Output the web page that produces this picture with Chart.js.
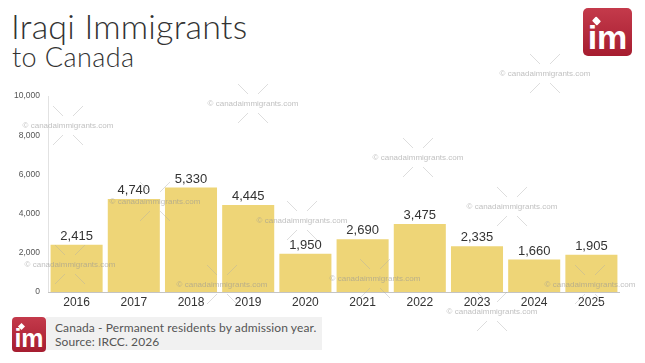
<!DOCTYPE html>
<html lang="en">
<head>
  <meta charset="utf-8">
  <title>Iraqi Immigrants to Canada</title>
  <style type="text/css">
    body { margin: 0; background: #fff; width: 645px; height: 363px; overflow: hidden; position: relative; }
    #wrap { position: absolute; left: 0; top: 0; width: 645px; height: 363px; }
    .title { position: absolute; left: 11px; top: 9px; font-family: Lato, sans-serif; font-weight: 300; font-size: 34px; color: #333; line-height: 1; letter-spacing: 0.2px; }
    .sub { position: absolute; left: 12px; top: 43px; font-family: Lato, sans-serif; font-weight: 300; font-size: 27px; color: #333; line-height: 1; letter-spacing: 0.4px; }
    .logo { position: absolute; background: linear-gradient(#c43a4b, #a61d30); border-radius: 5px; color: #fff; font-family: "Liberation Sans", Arial, sans-serif; font-weight: bold; text-align: center; }
    .logo .leaf { position: absolute; background: #fff; }
    .foot { position: absolute; left: 46px; top: 317px; width: 276px; height: 33px; background: #f1f1f1; }
    .foot p { margin: 0; position: absolute; left: 9px; font-family: Lato, sans-serif; font-size: 12px; color: #555; letter-spacing: 0.1px; }
  </style>
</head>
<body>
  <div class="title">Iraqi Immigrants</div>
  <div class="sub">to Canada</div>

  <!-- logo top right -->
  <div class="logo" style="left:583px; top:8px; width:49px; height:48px; font-size:34px; line-height:58px;">im
    <div class="leaf" style="left:10px; top:10px; width:7px; height:6px; transform:rotate(45deg); border-radius:1px;"></div>
  </div>

  <div class="foot">
    <p style="top:3px;">Canada - Permanent residents by admission year.</p>
    <p style="top:17px;">Source: IRCC. 2026</p>
  </div>
  <!-- logo bottom left -->
  <div class="logo" style="left:12px; top:317px; width:34px; height:35px; font-size:25px; line-height:42px; border-radius:4px;">im
    <div class="leaf" style="left:7px; top:7px; width:5px; height:5px; transform:rotate(45deg);"></div>
  </div>

  <div id="wrap"><canvas id="barChart"></canvas></div>

  <script src="https://cdn.jsdelivr.net/npm/chart.js"></script>
  <script>
    // data
    const years = ["2016", "2017", "2018", "2019", "2020", "2021", "2022", "2023", "2024", "2025"];
    const residents = [2415, 4740, 5330, 4445, 1950, 2690, 3475, 2335, 1660, 1905];
    const yTicks = [0, 2000, 4000, 6000, 8000, 10000];

    // watermark spots (text centre x, y)
    const marks = [[68, 126], [253, 104], [545, 74], [418, 158], [155, 202], [302, 221],
                   [512, 207], [70, 265], [375, 279], [222, 285], [590, 285], [492, 312]];

    const fmt = v => v.toLocaleString("en-US");

    // draw values above the bars + the baseline
    const valueLabels = {
      id: "valueLabels",
      afterDatasetsDraw(chart) {
        const ctx = chart.ctx;
        const a = chart.chartArea;
        ctx.save();
        ctx.strokeStyle = "#c4c4c4";
        ctx.lineWidth = 1;
        ctx.beginPath();
        ctx.moveTo(a.left, Math.round(a.bottom) + 0.5);
        ctx.lineTo(a.right, Math.round(a.bottom) + 0.5);
        ctx.stroke();
        ctx.font = "13px 'Liberation Sans', Arial, sans-serif";
        ctx.fillStyle = "#333";
        ctx.textAlign = "center";
        ctx.textBaseline = "bottom";
        chart.getDatasetMeta(0).data.forEach((bar, i) => {
          ctx.fillText(fmt(residents[i]), bar.x, bar.y - 2);
        });
        ctx.restore();
      }
    };

    // the "© canadaimmigrants.com" stamps
    const watermark = {
      id: "watermark",
      afterDraw(chart) {
        const ctx = chart.ctx;
        ctx.save();
        ctx.font = "8px 'Liberation Sans', Arial, sans-serif";
        ctx.fillStyle = "rgba(150,150,150,0.6)";
        ctx.strokeStyle = "rgba(170,170,170,0.5)";
        ctx.lineWidth = 0.8;
        ctx.textAlign = "center";
        ctx.textBaseline = "middle";
        marks.forEach(([cx, cy]) => {
          ctx.fillText("\u00a9 canadaimmigrants.com", cx, cy);
          ctx.beginPath();
          ctx.moveTo(cx - 15, cy - 20); ctx.lineTo(cx - 5, cy - 10);
          ctx.moveTo(cx + 15, cy - 20); ctx.lineTo(cx + 5, cy - 10);
          ctx.moveTo(cx - 15, cy + 19); ctx.lineTo(cx - 5, cy + 9);
          ctx.moveTo(cx + 15, cy + 19); ctx.lineTo(cx + 5, cy + 9);
          ctx.stroke();
        });
        ctx.restore();
      }
    };

    new Chart(document.getElementById("barChart"), {
      type: "bar",
      data: {
        labels: years,
        datasets: [{
          label: "Permanent residents",
          data: residents,
          backgroundColor: "#eed577",
          barPercentage: 0.91,
          categoryPercentage: 1.0
        }]
      },
      options: {
        responsive: true,
        maintainAspectRatio: false,
        animation: false,
        layout: { padding: { left: 0, top: 96, right: 25, bottom: 51 } },
        plugins: { legend: { display: false }, tooltip: { enabled: false } },
        scales: {
          x: {
            grid: { display: false, drawTicks: false },
            border: { display: false },
            ticks: { color: "#333", font: { size: 12, family: "'Liberation Sans', Arial, sans-serif" }, padding: 3 },
            afterFit: s => { s.height = 20; }
          },
          y: {
            min: 0,
            max: 10000,
            grid: { display: false, drawTicks: false },
            border: { display: true, color: "#e2e2e2", width: 1 },
            afterBuildTicks: s => { s.ticks = yTicks.map(v => ({ value: v })); },
            ticks: {
              color: "#555",
              font: { size: 8.5, family: "'Liberation Sans', Arial, sans-serif" },
              padding: 8,
              callback: v => fmt(v)
            },
            afterFit: s => { s.width = 48; }
          }
        }
      },
      plugins: [valueLabels, watermark]
    });
  </script>
</body>
</html>
